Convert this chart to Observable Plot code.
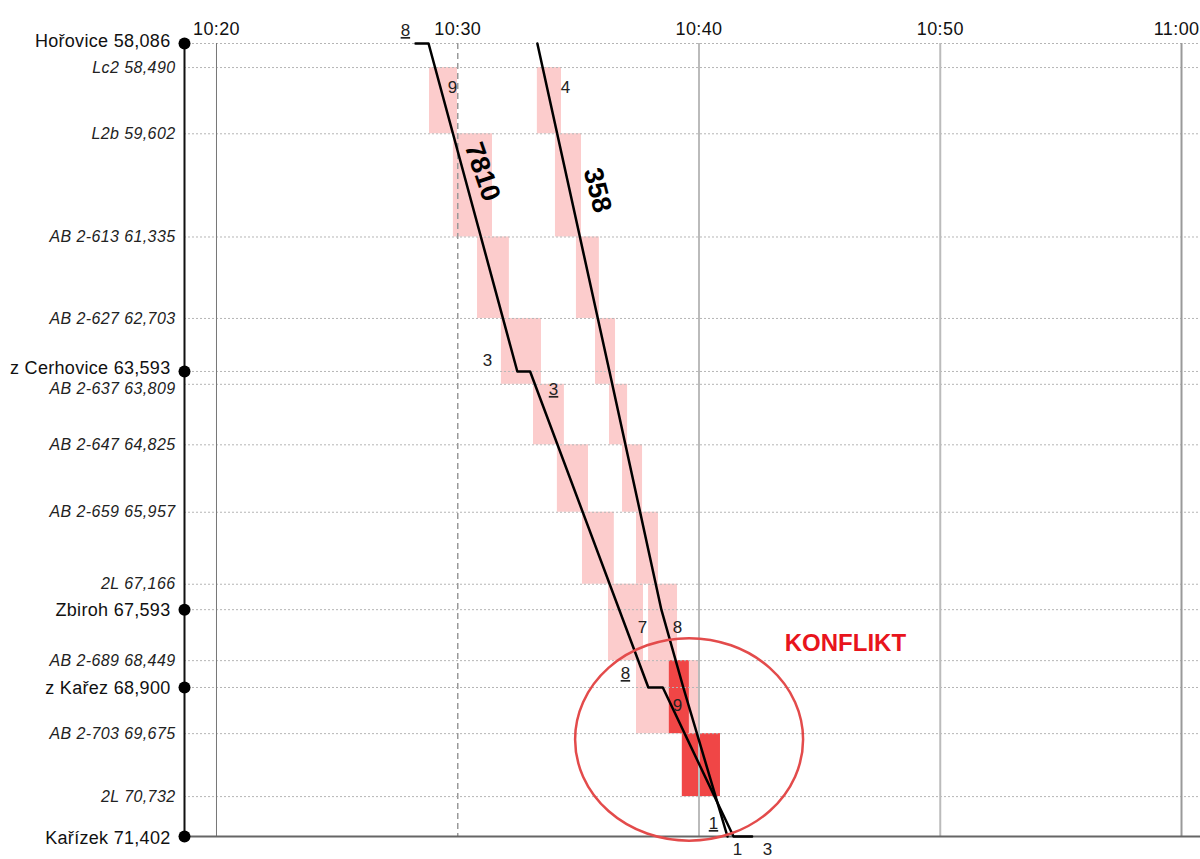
<!DOCTYPE html>
<html><head><meta charset="utf-8">
<script src="https://cdn.jsdelivr.net/npm/d3@7"></script>
<script src="https://cdn.jsdelivr.net/npm/@observablehq/plot@0.6"></script>
<style>
html,body{margin:0;padding:0;background:#fff;overflow:hidden}
.ul text{text-decoration:underline}
.main text{letter-spacing:0.3px}
.sub text{letter-spacing:0.4px}
.tick text{letter-spacing:0.4px}
</style></head><body><div id="chart"></div>
<script>
// ---- data ----
const stationNames = ["Hořovice", "Lc2", "L2b", "AB 2-613", "AB 2-627", "z Cerhovice", "AB 2-637", "AB 2-647", "AB 2-659", "2L", "Zbiroh", "AB 2-689", "z Kařez", "AB 2-703", "2L", "Kařízek"];
const stationKm = [58.086, 58.490, 59.602, 61.335, 62.703, 63.593, 63.809, 64.825, 65.957, 67.166, 67.593, 68.449, 68.900, 69.675, 70.732, 71.402];
const stationMain = [true, false, false, false, false, true, false, false, false, false, true, false, true, false, false, true];
const stationLabelShift = [-2, 0, 0, 0, 0, -3, 5, 0, 0, 0, 1, 0, 1, 0, 0, 2];

const tickMinutes = [20, 30, 40, 50, 60];
const tickLabels = ["10:20", "10:30", "10:40", "10:50", "11:00"];

// train paths (minutes after 10:00, km)
const train7810Time = [28.25, 28.79, 32.47, 33.0, 37.9, 38.5, 41.43, 42.2];
const train7810Km = [58.086, 58.086, 63.593, 63.593, 68.900, 68.900, 71.402, 71.402];
const train358Time = [33.30, 36.29, 38.44, 39.35, 41.18];
const train358Km = [58.086, 63.593, 67.593, 68.900, 71.402];

// block sections
const blockFromKm = [58.490, 59.602, 61.335, 62.703, 63.809, 64.825, 65.957, 67.166, 68.449, 69.675];
const blockToKm = [59.602, 61.335, 62.703, 63.809, 64.825, 65.957, 67.166, 68.449, 69.675, 70.732];
const block7810Start = [28.83, 29.82, 30.82, 31.81, 33.14, 34.13, 35.17, 36.25, 37.41, 39.31];
const block7810End = [29.99, 31.44, 32.14, 33.47, 34.42, 35.42, 36.49, 37.70, 39.60, 40.89];
const block358Start = [33.30, 34.05, 34.92, 35.71, 36.29, 36.83, 37.41, 37.91, 38.77, 39.31];
const block358End = [34.30, 35.13, 35.87, 36.54, 37.04, 37.66, 38.32, 39.11, 40.02, 40.89];

// minute marks
const minuteText = ["9", "4", "3", "7", "8", "9", "1", "3"];
const minuteTime = [29.78, 34.47, 31.23, 37.66, 39.11, 39.11, 41.59, 42.84];
const minuteKm = [58.825, 58.825, 63.409, 67.893, 67.893, 69.202, 71.615, 71.615];
const minuteUText = ["8", "3", "8", "1"];
const minuteUTime = [27.83, 33.97, 36.95, 40.60];
const minuteUKm = [57.868, 63.896, 68.665, 71.184];

const trainLabels = ["7810", "358"];
const trainLabelTime = [31.02, 35.79];
const trainLabelKm = [60.24, 60.55];
const trainLabelAngle = [71, 76];

const conflictLabel = "KONFLIKT";
const conflictLabelTime = 46.07;
const conflictLabelKm = 68.161;
const conflictEllipseTime = 39.61;
const conflictEllipseKm = 69.78;
const conflictEllipseRxMin = 4.725;
const conflictEllipseRyKm = 1.70;

const xMin = 18.674, xMax = 60.787;

// ---- derived tables ----
const stations = stationNames.map((n, i) => ({
  name: n, km: stationKm[i], main: stationMain[i], shift: stationLabelShift[i],
  label: n + " " + stationKm[i].toFixed(3).replace(".", ",")
}));
const path7810 = train7810Time.map((t, i) => ({t, km: train7810Km[i]}));
const path358 = train358Time.map((t, i) => ({t, km: train358Km[i]}));
const blocks7810 = blockFromKm.map((a, i) => ({a, b: blockToKm[i], t1: block7810Start[i], t2: block7810End[i]}));
const blocks358 = blockFromKm.map((a, i) => ({a, b: blockToKm[i], t1: block358Start[i], t2: block358End[i]}));
const conflicts = [];
blocks7810.forEach((p, i) => {
  const q = blocks358[i];
  const s = Math.max(p.t1, q.t1), e = Math.min(p.t2, q.t2);
  if (e > s) conflicts.push({a: p.a, b: p.b, t1: s, t2: e});
});
const minutes = minuteText.map((s, i) => ({s, t: minuteTime[i], km: minuteKm[i]}));
const minutesU = minuteUText.map((s, i) => ({s, t: minuteUTime[i], km: minuteUKm[i]}));
const tLabels = trainLabels.map((s, i) => ({s, t: trainLabelTime[i], km: trainLabelKm[i], a: trainLabelAngle[i]}));
const kmTop = stationKm[0], kmBottom = stationKm[stationKm.length - 1];
const ticks = tickMinutes.map((t, i) => ({t, s: tickLabels[i]}));

const mainSt = stations.filter(d => d.main);
const subSt = stations.filter(d => !d.main);

const plot = Plot.plot({
  width: 1200, height: 859,
  marginLeft: 184, marginRight: 0, marginTop: 43, marginBottom: 23,
  x: {domain: [xMin, xMax], axis: null},
  y: {domain: [kmTop, kmBottom], reverse: true, axis: null},
  style: {fontFamily: "'Liberation Sans', Arial, sans-serif", background: "white", overflow: "visible"},
  marks: [
    Plot.rect(blocks7810, {x1: "t1", x2: "t2", y1: "a", y2: "b", fill: "#fccccc"}),
    Plot.rect(blocks358, {x1: "t1", x2: "t2", y1: "a", y2: "b", fill: "#fccccc"}),
    Plot.rect(conflicts, {x1: "t1", x2: "t2", y1: "a", y2: "b", fill: "#f04646"}),
    Plot.ruleY(stations.slice(0, -1), {y: "km", stroke: "#b5b5b5", strokeWidth: 1, strokeDasharray: "2,2"}),
    Plot.ruleX([tickMinutes[0]], {y1: kmTop, y2: kmBottom, stroke: "#777", strokeWidth: 1}),
    Plot.ruleX([tickMinutes[1]], {y1: kmTop, y2: kmBottom, stroke: "#999", strokeWidth: 1.5, strokeDasharray: "6,4"}),
    Plot.ruleX([tickMinutes[2], tickMinutes[3]], {y1: kmTop, y2: kmBottom, stroke: "#bbb", strokeWidth: 2}),
    Plot.ruleX([tickMinutes[4]], {y1: kmTop, y2: kmBottom, stroke: "#999", strokeWidth: 2}),
    Plot.ruleY([kmBottom], {stroke: "#666", strokeWidth: 2}),
    Plot.ruleX([xMin], {y1: kmTop, y2: kmBottom, stroke: "#111", strokeWidth: 2}),
    Plot.line(path7810, {x: "t", y: "km", stroke: "#000", strokeWidth: 2.5}),
    Plot.line(path358, {x: "t", y: "km", stroke: "#000", strokeWidth: 2.5}),
    Plot.dot(mainSt, {y: "km", frameAnchor: "left", r: 6, fill: "#000"}),
    Plot.text(mainSt, {y: "km", text: "label", frameAnchor: "left", textAnchor: "end", dx: -14,
      fontSize: 18, fill: "#111", className: "main"}),
    Plot.text(subSt, {y: "km", text: "label", frameAnchor: "left", textAnchor: "end", dx: -9,
      fontSize: 16, fontStyle: "italic", fill: "#222", className: "sub"}),
    Plot.text(ticks.slice(0, -1), {x: "t", text: "s", frameAnchor: "top", dy: -21, fontSize: 18, fill: "#111", className: "tick"}),
    Plot.text(ticks.slice(-1), {x: "t", text: "s", frameAnchor: "top", textAnchor: "end", dx: 18, dy: -21, fontSize: 18, fill: "#111", className: "tick"}),
    Plot.text(minutes, {x: "t", y: "km", text: "s", fontSize: 17, fill: "#222"}),
    Plot.text(minutesU, {x: "t", y: "km", text: "s", fontSize: 17, fill: "#222", className: "ul"}),
    Plot.text(tLabels, {x: "t", y: "km", text: "s", rotate: "a", fontSize: 27, fontWeight: "bold", fill: "#000"}),
    Plot.text([conflictLabel], {x: conflictLabelTime, y: conflictLabelKm, text: d => d, fontSize: 24, fontWeight: "bold", fill: "#e8141c"})
  ]
});

document.getElementById("chart").appendChild(plot);

// apply small vertical shifts using the data order
plot.querySelectorAll(".main text").forEach((n, i) => n.setAttribute("dy", mainSt[i].shift + "px"));
plot.querySelectorAll(".sub text").forEach((n, i) => n.setAttribute("dy", subSt[i].shift + "px"));

// conflict ellipse, positioned with the plot's scales
const sx = plot.scale("x"), sy = plot.scale("y");
const cx = sx.apply(conflictEllipseTime), cy = sy.apply(conflictEllipseKm);
const rx = sx.apply(conflictEllipseTime + conflictEllipseRxMin) - cx;
const ry = sy.apply(conflictEllipseKm + conflictEllipseRyKm) - cy;
d3.select(plot).append("ellipse")
  .attr("cx", cx).attr("cy", cy).attr("rx", Math.abs(rx)).attr("ry", Math.abs(ry))
  .attr("fill", "none").attr("stroke", "#e34b4b").attr("stroke-width", 2.5);
</script></body></html>
